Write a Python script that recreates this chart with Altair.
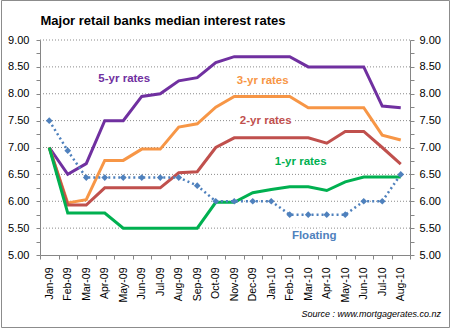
import altair as alt
import pandas as pd

months = ["Jan-09", "Feb-09", "Mar-09", "Apr-09", "May-09", "Jun-09", "Jul-09", "Aug-09",
          "Sep-09", "Oct-09", "Nov-09", "Dec-09", "Jan-10", "Feb-10", "Mar-10", "Apr-10",
          "May-10", "Jun-10", "Jul-10", "Aug-10"]

five_yr = [7.00, 6.50, 6.70, 7.50, 7.50, 7.95, 8.00, 8.24, 8.30, 8.58, 8.69, 8.69, 8.69, 8.69,
           8.50, 8.50, 8.50, 8.50, 7.77, 7.74]
three_yr = [7.00, 5.97, 6.03, 6.76, 6.76, 6.97, 6.97, 7.38, 7.44, 7.75, 7.95, 7.95, 7.95, 7.95,
            7.74, 7.74, 7.74, 7.74, 7.23, 7.14]
two_yr = [7.00, 5.93, 5.93, 6.25, 6.25, 6.25, 6.25, 6.53, 6.55, 7.00, 7.18, 7.18, 7.18, 7.18,
          7.18, 7.08, 7.30, 7.30, 7.00, 6.69]
one_yr = [7.00, 5.78, 5.78, 5.78, 5.50, 5.50, 5.50, 5.50, 5.50, 5.98, 5.98, 6.16, 6.22, 6.27,
          6.27, 6.20, 6.36, 6.45, 6.45, 6.45]
floating = [7.50, 6.94, 6.44, 6.44, 6.44, 6.44, 6.44, 6.44, 6.29, 6.00, 6.00, 6.00, 6.00, 5.75,
            5.75, 5.75, 5.75, 6.00, 6.00, 6.50]

series_names = ["5-yr rates", "3-yr rates", "2-yr rates", "1-yr rates", "Floating"]
series_colors = ["#7030A0", "#F79646", "#C0504D", "#00B050", "#4F81BD"]

# series label annotations: text, anchor month, anchor value
label_months = ["May-09", "Dec-09", "Dec-09", "Feb-10", "Mar-10"]
label_values = [8.27, 8.24, 7.49, 6.73, 5.36]
label_dx = [1, 10, 13, 11, 6]

y_ticks = [5.0 + 0.25 * i for i in range(17)]
grid_values = [5.5, 6.0, 6.5, 7.0, 7.5, 8.0, 8.5, 9.0]

title_text = "Major retail banks median interest rates"
source_text = "Source : www.mortgagerates.co.nz"

rows = []
for name, vals in zip(series_names, [five_yr, three_yr, two_yr, one_yr, floating]):
    for m, v in zip(months, vals):
        rows.append({"month": m, "rate": v, "series": name})
df = pd.DataFrame(rows)

FONT = "Liberation Sans"
AXIS_GREY = "#868686"

yscale = alt.Scale(domain=[5, 9], nice=False, zero=False)
xscale = alt.Scale(type="band", paddingInner=0, paddingOuter=0)
color_scale = alt.Scale(domain=series_names, range=series_colors)

label_expr = "(datum.value * 2) % 1 == 0 ? format(datum.value, '.2f') : ''"

x_axis = alt.Axis(title=None, labelAngle=270, tickBand="extent", tickSize=4, labelPadding=8,
                  labelFont=FONT, labelFontSize=10.5, labelColor="black",
                  domainColor=AXIS_GREY, tickColor=AXIS_GREY, grid=False)
left_axis = alt.Axis(orient="left", title=None, values=y_ticks, labelExpr=label_expr,
                     tickSize=4, labelPadding=7, grid=False, labelFont=FONT, labelFontSize=11,
                     labelColor="black", domainColor=AXIS_GREY, tickColor=AXIS_GREY)
right_axis = alt.Axis(orient="right", title=None, values=y_ticks, labelExpr=label_expr,
                      tickSize=4, labelPadding=5, grid=False, labelFont=FONT, labelFontSize=11,
                      labelColor="black", domainColor=AXIS_GREY, tickColor=AXIS_GREY)

X = alt.X("month:O", sort=months, scale=xscale, axis=x_axis, bandPosition=0.5)

grid = alt.Chart(pd.DataFrame({"v": grid_values})).mark_rule(
    color="#8a8a8a", strokeDash=[1, 2], strokeWidth=1
).encode(y=alt.Y("v:Q", scale=yscale, axis=left_axis))

solid = alt.Chart(df).transform_filter(alt.datum.series != "Floating").mark_line(
    strokeWidth=3, strokeJoin="miter"
).encode(
    x=X,
    y=alt.Y("rate:Q", scale=yscale, axis=right_axis),
    color=alt.Color("series:N", scale=color_scale, legend=None),
    detail="series:N",
)

float_df = df[df["series"] == "Floating"]
float_line = alt.Chart(float_df).mark_line(
    strokeWidth=2.5, strokeDash=[2, 3], color="#4F81BD"
).encode(x=X, y=alt.Y("rate:Q", scale=yscale, axis=None))
float_pts = alt.Chart(float_df).mark_point(
    shape="diamond", filled=True, size=45, opacity=1, color="#4F81BD"
).encode(x=X, y=alt.Y("rate:Q", scale=yscale, axis=None))

labels = []
for name, col, m, v, dx in zip(series_names, series_colors, label_months, label_values, label_dx):
    ldf = pd.DataFrame({"month": [m], "rate": [v], "txt": [name]})
    halo = alt.Chart(ldf).mark_text(
        font=FONT, fontSize=11.5, fontWeight="bold", color="white", stroke="white",
        strokeWidth=5, dx=dx, baseline="middle"
    ).encode(x=X, y=alt.Y("rate:Q", scale=yscale, axis=None), text="txt:N")
    txt = alt.Chart(ldf).mark_text(
        font=FONT, fontSize=11.5, fontWeight="bold", color=col, dx=dx, baseline="middle"
    ).encode(x=X, y=alt.Y("rate:Q", scale=yscale, axis=None), text="txt:N")
    labels += [halo, txt]

title = alt.Chart(pd.DataFrame({"t": [title_text]})).mark_text(
    font=FONT, fontSize=13, fontWeight="bold", color="black", align="left",
    baseline="alphabetic"
).encode(x=alt.value(0.5), y=alt.value(-15), text="t:N")

source = alt.Chart(pd.DataFrame({"t": [source_text]})).mark_text(
    font=FONT, fontSize=9, fontStyle="italic", color="black", align="right",
    baseline="alphabetic"
).encode(x=alt.value(401), y=alt.value(276.5), text="t:N")

frame = alt.Chart(pd.DataFrame({"a": [0]})).mark_rect(
    fillOpacity=0, stroke="#8c8c8c", strokeWidth=1
).encode(x=alt.value(-38.5), x2=alt.value(409.5), y=alt.value(-39.5), y2=alt.value(287.5))

chart = alt.layer(
    grid, solid, *labels, float_line, float_pts, title, source, frame
).resolve_scale(y="shared").resolve_axis(y="independent").properties(
    width=370, height=215,
    autosize=alt.AutoSizeParams(type="none"),
    padding={"left": 40, "top": 40, "right": 41, "bottom": 73},
    background="white",
).configure_view(strokeWidth=0)

chart.save("out.html", embed_options={"renderer": "svg", "actions": False})
